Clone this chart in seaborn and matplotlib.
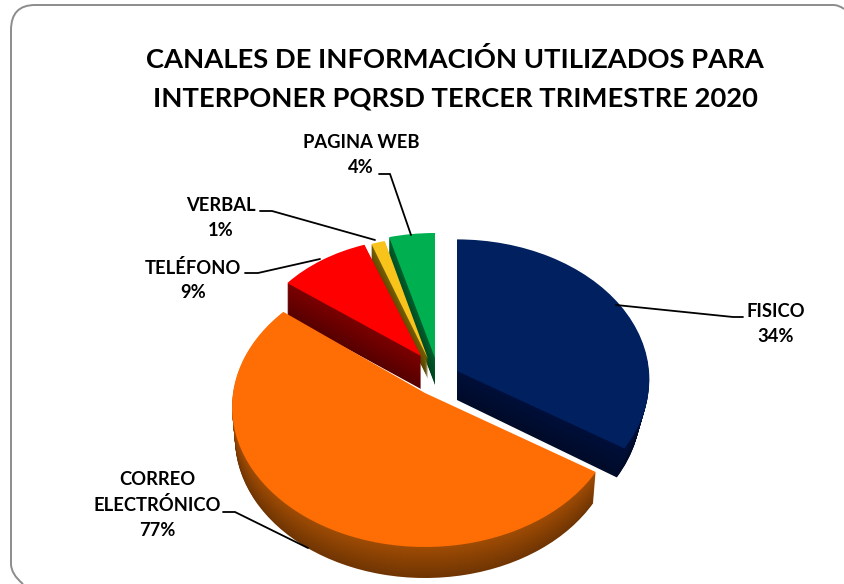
import matplotlib
matplotlib.use("Agg")
import matplotlib.pyplot as plt
import numpy as np
import seaborn as sns
from matplotlib.colors import to_rgb
from matplotlib.patches import PathPatch
from matplotlib.path import Path
from matplotlib.transforms import Transform

sns.set_theme(style="white")
plt.rcParams['font.family'] = ['Lato', 'DejaVu Sans']

# Data
categories = ["FISICO", "CORREO\nELECTRÓNICO", "TELÉFONO", "VERBAL", "PAGINA WEB"]
slice_values = [34, 51.6, 9, 1.3, 4.1]
printed_labels = ["34%", "77%", "9%", "1%", "4%"]
top_colors = ["#002060", "#FF6D05", "#FF0000", "#F8C41C", "#00B050"]
side_colors = ["#000F3A", "#A04C04", "#7C0000", "#7A6000", "#00602C"]
title_lines = ["CANALES DE INFORMACIÓN UTILIZADOS PARA", "INTERPONER PQRSD TERCER TRIMESTRE 2020"]

# Layout in image pixels: centre x, centre y, radius x, radius y, depth, narrowing at base, perspective
slice_layout = {
    "FISICO": (457, 371, 192, 140, 29, 0.955, 0.06),
    "CORREO\nELECTRÓNICO": (425, 393, 192, 140, 31, 0.985, 0.10),
    "TELÉFONO": (421, 356, 170, 118, 33, 1.0, 0.0),
    "VERBAL": (428, 359, 170, 122, 20, 1.0, 0.0),
    "PAGINA WEB": (435, 358, 180, 125, 27, 1.0, 0.0),
}
label_centres = [(776, 324), (157, 505), (193, 280), (221, 218), (361, 155)]
leaders = [
    [(616, 305), (733, 317), (743, 317)],
    [(223, 512), (235, 512), (308, 548)],
    [(245, 273), (258, 273), (320, 259)],
    [(260, 211), (272, 211), (375, 240)],
    [(379, 174), (390, 174), (411, 235)],
]


class Tilt(Transform):
    """Lays a unit pie on a tilted plane: nearer parts look larger."""
    input_dims = output_dims = 2

    def __init__(self, cx, cy, a, b, k):
        super().__init__()
        self.p = (cx, cy, a, b, k)

    def transform_non_affine(self, values):
        cx, cy, a, b, k = self.p
        values = np.asarray(values, dtype=float)
        s = 1 - k * values[:, 1]
        return np.column_stack([cx + a * values[:, 0] * s, cy - b * values[:, 1] * s])


fig = plt.figure(figsize=(8.44, 5.84), dpi=100, facecolor="white")
ax = fig.add_axes([0, 0, 1, 1])


def draw_slice(value, start, top, side, layout, zorder):
    cx, cy, a, b, depth, narrow, k = layout
    side_rgb = np.array(to_rgb(side))
    for d in list(range(depth, 0, -1)) + [0]:
        f = d / depth
        colour = top if d == 0 else tuple(side_rgb * (1 - 0.3 * f))
        wedges, _ = ax.pie([value, 100 - value], startangle=start, counterclock=False,
                           colors=[colour, "none"], normalize=True)
        tr = Tilt(cx, cy + d, a * (1 - (1 - narrow) * f), b, k) + ax.transData
        for w in wedges:
            w.set_transform(tr)
            w.set_zorder(zorder)
            w.set_linewidth(0)
        wedges[1].set_visible(False)


# Start angles follow from the cumulative values, clockwise from 12 o'clock
starts = {}
acc = 0.0
for c, v in zip(categories, slice_values):
    starts[c] = 90 - acc * 3.6
    acc += v

order = ["PAGINA WEB", "VERBAL", "TELÉFONO", "FISICO", "CORREO\nELECTRÓNICO"]
for z, c in enumerate(order):
    i = categories.index(c)
    draw_slice(slice_values[i], starts[c], top_colors[i], side_colors[i], slice_layout[c], 3 + z)

ax.set_aspect("auto")
ax.set_xlim(0, 844)
ax.set_ylim(584, 0)
ax.axis("off")

# Frame: open outline that stops at the image edges
frame_path = Path(
    [(844, 9), (839, 5), (833, 5), (35, 5), (11, 5), (11, 30), (11, 564), (11, 574), (23, 584)],
    [Path.MOVETO, Path.CURVE3, Path.CURVE3, Path.LINETO, Path.CURVE3, Path.CURVE3,
     Path.LINETO, Path.CURVE3, Path.CURVE3])
ax.add_patch(PathPatch(frame_path, fc="none", ec="#8C8C8C", lw=1.4, zorder=1))

ax.text(455, 60, title_lines[0], ha="center", va="center", fontsize=19.7, fontweight="bold", color="black")
ax.text(455, 99, title_lines[1], ha="center", va="center", fontsize=19.7, fontweight="bold", color="black")

for c, p, (x, y), pts in zip(categories, printed_labels, label_centres, leaders):
    ax.text(x, y, f"{c}\n{p}", ha="center", va="center", fontsize=13.2, fontweight="bold",
            color="black", linespacing=1.55, zorder=12)
    ax.plot([q[0] for q in pts], [q[1] for q in pts], color="black", lw=1.3, zorder=11,
            solid_joinstyle="miter")

fig.savefig("out.png", dpi=100)
